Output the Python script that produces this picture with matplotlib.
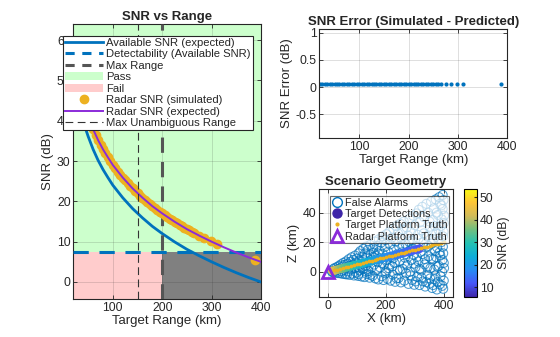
import numpy as np
import matplotlib
matplotlib.use('Agg')
import matplotlib.pyplot as plt
from matplotlib.colors import LinearSegmentedColormap
from matplotlib.lines import Line2D
from matplotlib.patches import Patch

plt.rcParams['font.family'] = ['Liberation Sans', 'DejaVu Sans']

# --- 1. DATOS ---
# curvas esperadas (km, dB)
rng_curve = [20, 25, 30, 35, 40, 45, 50, 60, 70, 80, 90, 100, 120, 140, 160, 180,
             200, 225, 250, 275, 300, 325, 350, 375, 400]
snr_radar_exp = [57.0, 53.1, 50.0, 47.3, 45.0, 42.9, 41.1, 37.9, 35.2, 32.9, 30.9, 29.0,
                 25.9, 23.2, 20.9, 18.8, 17.0, 14.95, 13.1, 11.5, 10.0, 8.6, 7.3, 6.1, 5.0]
snr_avail_exp = [52.0, 48.1, 45.0, 42.3, 40.0, 37.9, 36.1, 32.9, 30.2, 27.9, 25.9, 24.0,
                 20.9, 18.2, 15.9, 13.8, 12.0, 9.95, 8.1, 6.5, 5.0, 3.6, 2.3, 1.1, 0.0]

# SNR simulado por el radar
rng_sim = [20, 25, 30, 35, 40, 45, 50, 55, 60, 65, 70, 75, 80, 85, 90, 95, 100, 105, 110,
           115, 120, 125, 130, 135, 140, 145, 150, 155, 160, 165, 170, 175, 180, 185, 190,
           195, 200, 205, 210, 215, 220, 225, 230, 235, 240, 245, 250, 255, 260, 265,
           275, 285, 298, 310, 388]
snr_sim = [57.0, 53.1, 50.0, 47.3, 45.0, 42.9, 41.1, 39.4, 37.9, 36.5, 35.2, 34.0, 32.9,
           31.9, 30.9, 29.9, 29.0, 28.2, 27.4, 26.6, 25.9, 25.2, 24.5, 23.8, 23.2, 22.6,
           22.0, 21.4, 20.9, 20.3, 19.8, 19.3, 18.8, 18.4, 17.9, 17.4, 17.0, 16.6, 16.2,
           15.7, 15.3, 15.0, 14.6, 14.2, 13.8, 13.5, 13.1, 12.8, 12.4, 12.1, 11.5, 10.85,
           10.07, 9.4, 5.5]
snr_err = [0.055] * len(rng_sim)

detectability = 7.5
max_range = 200
max_unamb = 150

# geometria
tgt_x = [20, 30, 40, 50, 60, 70, 80, 90, 100, 110, 120, 130, 140, 150, 160, 170, 180, 190,
         200, 210, 220, 230, 240, 250, 260, 270, 280, 290, 300, 310, 320, 330, 340, 350,
         360, 370, 380, 390, 400]
tgt_z = [1.0, 1.5, 2.0, 2.5, 3.0, 3.5, 4.0, 4.5, 5.0, 5.5, 6.0, 6.5, 7.0, 7.5, 8.0, 8.5,
         9.0, 9.5, 10.0, 10.5, 11.0, 11.5, 12.0, 12.5, 13.0, 13.5, 14.0, 14.5, 15.0, 15.5,
         16.0, 16.5, 17.0, 17.5, 18.0, 18.5, 19.0, 19.5, 20.0]

det_x = [15, 25, 35, 45, 55, 65, 75, 85, 95, 105, 115, 125, 135, 145, 155, 165, 175, 185,
         195, 205, 215, 225, 235, 245, 255, 265, 275, 285, 295, 305, 315]
det_z = [0.6, 1.1, 1.6, 2.1, 2.6, 3.1, 3.6, 4.1, 4.6, 5.1, 5.6, 6.1, 6.6, 7.1, 7.6, 8.1,
         8.6, 9.1, 9.6, 10.1, 10.6, 11.1, 11.6, 12.1, 12.6, 13.1, 13.6, 14.1, 14.6, 15.1, 15.6]
det_snr = [45, 42, 39, 37, 35, 33, 31, 30, 28, 27, 26, 25, 24, 23, 22, 21, 20, 19, 18.5,
           18, 17, 16.5, 16, 15.5, 15, 14, 13.5, 13, 12.5, 12, 11.5]

fa_x = [12, 15, 18, 20, 22, 25, 27, 30, 32, 35, 37, 40, 42, 44, 46, 48, 50, 52, 55, 57, 59,
        61, 63, 65, 67, 69, 71, 73, 75, 77, 79, 81, 83, 85, 87, 89, 91, 93, 95, 97, 99, 101, 103, 105, 107, 109,
        111, 113, 115, 117, 119, 121, 123, 125, 127, 129, 131, 133, 135, 137, 139, 141, 143, 145, 147, 149, 151, 153, 155, 157, 159,
        161, 163, 165, 167, 169, 171, 173, 175, 177, 179, 181, 183, 185, 187, 189, 191, 193, 195, 197, 199, 201, 203, 205, 207, 209,
        211, 213, 215, 217, 219, 221, 223, 225, 227, 229, 231, 233, 235, 237, 239, 241, 243, 245, 247, 249, 251, 253, 255, 257, 259,
        261, 263, 265, 267, 269, 271, 273, 275, 277, 279, 281, 283, 285, 287, 289, 291, 293, 295, 297, 299, 301, 303, 305, 307, 309,
        311, 313, 315, 317, 319, 321, 323, 325, 327, 329, 331, 333, 335, 337, 339, 341, 343, 345, 347, 349, 351, 353, 355, 357, 359,
        361, 363, 365, 367, 369, 371, 373, 375, 377, 379, 381, 383, 385, 387, 389, 391, 393, 395, 396, 397, 398, 399,
        105, 118, 132, 146, 158, 172, 186, 198, 212, 224, 236, 248, 258, 262, 270, 278, 284, 290, 296, 302,
        306, 312, 316, 322, 326, 330, 334, 338, 342, 346, 350, 352, 356, 358, 362, 364, 366, 368, 370, 372,
        374, 376, 378, 380, 382, 384, 386, 388, 390, 392, 394, 394, 395, 396, 397, 398, 399, 399, 400, 400]
fa_z = [0.5, -0.3, 1.8, -0.5, 2.5, 0.8, -0.7, 3.2, 1.5, -0.9, 4.0, 2.2, -1.0, 5.0, 0.4, 3.5, -1.4, 6.0, 1.2, 4.6, -1.6,
        7.0, 2.8, -1.8, 5.5, 0.3, 8.5, 3.9, -2.1, 6.8, 1.6, 9.8, -1.2, 4.8, 8.0, -2.5, 2.4, 11.0, 6.2, -0.6, 9.0, 3.3, -2.8, 12.5, 7.4, 0.9,
        14.0, 5.2, -3.2, 10.2, 1.8, 15.5, 7.8, -3.6, 12.4, 4.0, 17.0, -1.5, 9.6, 14.8, 0.5, 6.4, -4.0, 18.2, 11.5, 2.6, 8.2, -2.8, 16.0, 13.0, 4.9,
        20.5, -4.5, 10.8, 1.2, 17.5, 6.6, -5.2, 22.0, 14.0, 3.0, 9.2, 19.8, -3.0, 24.0, 12.0, -5.6, 5.0, 16.8, 21.5, 0.2, 25.5, 8.0, -4.8, 13.6, 2.4,
        27.0, 18.5, -6.0, 10.0, 23.0, 3.6, -2.0, 29.0, 15.0, 6.0, -6.8, 20.5, 31.0, 11.8, 0.8, 26.0, -4.2, 17.0, 7.2, 32.5, -7.2, 22.5, 13.2, 2.0, 28.5,
        34.0, -6.0, 9.5, 19.0, -1.0, 30.0, 4.5, 24.5, -8.2, 14.0, 36.0, 0.0, 27.0, 8.0, -5.5, 21.0, 38.0, 11.5, -8.8, 31.5, 3.0, 17.0, 39.5, -3.5, 25.0,
        7.0, 42.0, -9.0, 33.5, 13.5, 0.8, 28.0, 44.0, -6.5, 20.0, 37.0, 5.0, -10.0, 16.5, 46.0, 24.0, -2.0, 40.0, 10.5, -8.0, 30.5, 2.5, 47.5, 19.0, -11.0,
        35.0, 8.5, 43.0, -5.0, 14.0, 49.0, 26.0, -12.0, 3.5, 38.5, 21.0, 50.5, -8.5, 11.0, 31.0, 45.0, 0.0, 52.0, 17.0, -11.5, 27.0, 6.0,
        -1.5, 3.0, 0.0, -2.0, 9.5, 12.5, 6.0, -1.0, 4.8, 9.0, -4.5, 1.0, 18.0, 5.5, 12.0, 20.5, -2.5, 15.5, 5.5, -6.5,
        10.0, 22.5, 2.0, -4.0, 12.0, 26.0, 8.5, -7.0, 3.0, 17.5, 34.0, -4.5, 9.0, 27.5, -9.0, 22.0, 1.5, 31.0, -2.5, 10.0,
        40.0, 16.5, -7.0, 28.5, 4.0, 13.0, 46.0, -3.0, 20.0, 35.5, -9.5, 8.0, 42.5, 24.0, 12.5, 48.5, -6.0, 33.0, 2.5, 38.0]

# --- 2. ESTILO ---
parula = LinearSegmentedColormap.from_list('parula_aprox', [
    (0.000, (0.242, 0.150, 0.660)), (0.125, (0.278, 0.340, 0.974)),
    (0.250, (0.150, 0.550, 0.955)), (0.375, (0.050, 0.680, 0.850)),
    (0.500, (0.140, 0.760, 0.700)), (0.625, (0.440, 0.750, 0.500)),
    (0.750, (0.820, 0.733, 0.350)), (0.875, (0.995, 0.770, 0.215)),
    (1.000, (0.977, 0.984, 0.080))])

AZUL = '#0072BD'
NARANJA = '#EDB120'
VIOLETA = '#8B2BD9'
TXT = '#262626'

def estilo_ejes(ax):
    ax.grid(True, color='#262626', alpha=0.15, linewidth=0.7)
    ax.tick_params(direction='in', length=3, width=0.6, labelsize=8.8, colors=TXT,
                   top=True, right=True, pad=2)
    for s in ax.spines.values():
        s.set_color(TXT)
        s.set_linewidth(0.8)

fig = plt.figure(figsize=(5.6, 3.37), dpi=100)

# --- 3. SNR vs RANGO ---
ax1 = fig.add_axes([0.131, 0.113, 0.335, 0.816])
x0, x1 = 20, 400
y0, y1 = -4.2, 64
ax1.fill_between([x0, x1], detectability, y1, color='#CCFFCC', lw=0, zorder=0.5)
ax1.fill_between([x0, max_range], y0, detectability, color='#FFCCCC', lw=0, zorder=0.5)
ax1.fill_between([max_range, x1], y0, detectability, color='#808080', lw=0, zorder=0.5)

ax1.plot(rng_curve, snr_avail_exp, color=AZUL, lw=2, zorder=3)
ax1.axhline(detectability, color=AZUL, lw=2.2, dashes=(5, 3.5), zorder=3)
ax1.axvline(max_range, color='#555555', lw=2.2, dashes=(5, 3), zorder=3)
ax1.plot(rng_sim, snr_sim, 'o', color=NARANJA, ms=6, zorder=4)
ax1.plot(rng_curve, snr_radar_exp, color=VIOLETA, lw=1.4, zorder=5)
ax1.axvline(max_unamb, color='#333333', lw=0.8, dashes=(7, 4), zorder=5)

ax1.set_xlim(x0, x1)
ax1.set_ylim(y0, y1)
ax1.set_xticks([100, 200, 300, 400])
ax1.set_yticks([0, 10, 20, 30, 40, 50, 60])
estilo_ejes(ax1)
ax1.set_title('SNR vs Range', fontsize=9.5, fontweight='bold', color=TXT, pad=3)
ax1.set_xlabel('Target Range (km)', fontsize=9.5, color=TXT, labelpad=1)
ax1.set_ylabel('SNR (dB)', fontsize=9.5, color=TXT, labelpad=2)

h1 = [Line2D([], [], color=AZUL, lw=2),
      Line2D([], [], color=AZUL, lw=2.2, dashes=(3, 2.5)),
      Line2D([], [], color='#555555', lw=2.2, dashes=(3, 2.5)),
      Patch(facecolor='#CCFFCC', edgecolor='none'),
      Patch(facecolor='#FFCCCC', edgecolor='none'),
      Line2D([], [], marker='o', ls='none', color=NARANJA, ms=6),
      Line2D([], [], color=VIOLETA, lw=1.4),
      Line2D([], [], color='#333333', lw=0.8, dashes=(7, 4))]
l1 = ['Available SNR (expected)', 'Detectability (Available SNR)', 'Max Range', 'Pass',
      'Fail', 'Radar SNR (simulated)', 'Radar SNR (expected)', 'Max Unambiguous Range']
leg1 = ax1.legend(h1, l1, loc='upper left', bbox_to_anchor=(62.5 / 560, 1 - 35.5 / 337),
                  bbox_transform=fig.transFigure, fontsize=8.1, fancybox=False,
                  framealpha=1, edgecolor='#262626', handlelength=3.4, handletextpad=0.3,
                  labelspacing=0.13, borderpad=0.2, borderaxespad=0, numpoints=1)
leg1.get_frame().set_linewidth(0.8)
leg1.set_zorder(10)
for t in leg1.get_texts():
    t.set_color(TXT)

# --- 4. ERROR DE SNR ---
ax2 = fig.add_axes([0.570, 0.591, 0.336, 0.322])
ax2.plot(rng_sim, snr_err, 'o', color=AZUL, ms=3.0, mew=0)
ax2.set_xlim(19, 400)
ax2.set_ylim(-0.935, 1.065)
ax2.set_xticks([100, 200, 300, 400])
ax2.set_yticks([-0.5, 0, 0.5, 1])
ax2.set_yticklabels(['-0.5', '0', '0.5', '1'])
estilo_ejes(ax2)
ax2.set_title('SNR Error (Simulated - Predicted)', fontsize=9.5, fontweight='bold', color=TXT, pad=3)
ax2.set_xlabel('Target Range (km)', fontsize=9.5, color=TXT, labelpad=1)
ax2.set_ylabel('SNR Error (dB)', fontsize=9.5, color=TXT, labelpad=2)

# --- 5. GEOMETRIA DEL ESCENARIO ---
ax3 = fig.add_axes([0.570, 0.119, 0.239, 0.320])
ax3.scatter(fa_x, fa_z, s=42, facecolors='none', edgecolors=AZUL, linewidths=0.75, alpha=0.7, zorder=2)
sc = ax3.scatter(det_x, det_z, c=det_snr, cmap=parula, vmin=5.6, vmax=53.6, s=40,
                 edgecolors='none', zorder=3)
ax3.plot(tgt_x, tgt_z, '.', color=NARANJA, ms=3.5, zorder=4)
ax3.plot([0], [0], '^', ms=9, mfc='none', mec=VIOLETA, mew=2, zorder=5)
ax3.set_xlim(-31, 431)
ax3.set_ylim(-17, 56)
ax3.set_xticks([0, 200, 400])
ax3.set_yticks([0, 20, 40])
estilo_ejes(ax3)
ax3.set_title('Scenario Geometry', fontsize=9.5, fontweight='bold', color=TXT, pad=3)
ax3.set_xlabel('X (km)', fontsize=9.5, color=TXT, labelpad=1)
ax3.set_ylabel('Z (km)', fontsize=9.5, color=TXT, labelpad=2)

h3 = [Line2D([], [], marker='o', ls='none', mfc='none', mec=AZUL, ms=7, mew=1),
      Line2D([], [], marker='o', ls='none', color=parula(0.0), ms=6.5),
      Line2D([], [], marker='.', ls='none', color=NARANJA, ms=4),
      Line2D([], [], marker='^', ls='none', mfc='none', mec=VIOLETA, ms=8, mew=2)]
l3 = ['False Alarms', 'Target Detections', 'Target Platform Truth', 'Radar Platform Truth']
leg3 = ax3.legend(h3, l3, loc='upper left', bbox_to_anchor=(329.5 / 560, 1 - 196 / 337),
                  bbox_transform=fig.transFigure, fontsize=7.8, fancybox=False,
                  framealpha=0.7, edgecolor='#262626', handlelength=1.0, handletextpad=0.25,
                  labelspacing=0.12, borderpad=0.15, borderaxespad=0, numpoints=1)
leg3.get_frame().set_linewidth(0.8)
for t in leg3.get_texts():
    t.set_color(TXT)

cax = fig.add_axes([0.829, 0.119, 0.023, 0.320])
cb = fig.colorbar(sc, cax=cax)
cb.set_ticks([10, 20, 30, 40, 50])
cb.ax.tick_params(direction='in', length=2, labelsize=8.8, colors=TXT, pad=2)
cb.outline.set_linewidth(0.8)
cb.set_label('SNR (dB)', fontsize=8.8, color=TXT, labelpad=3)

fig.savefig('out.png', dpi=100)
